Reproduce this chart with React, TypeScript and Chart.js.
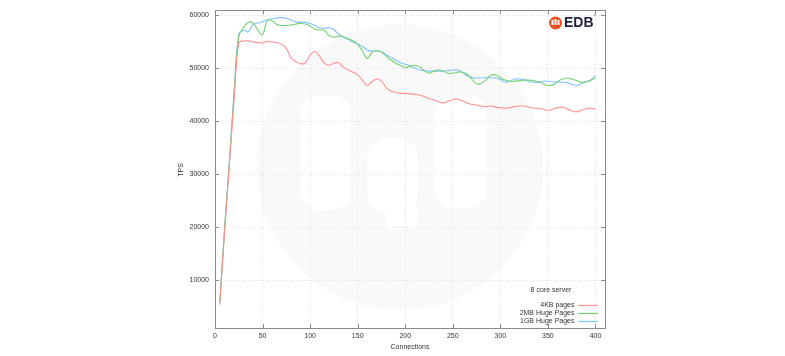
import React, { useEffect, useRef } from "react";
import { Chart, registerables } from "chart.js";

Chart.register(...registerables);

const connections: number[] = [];
for (let c = 5; c <= 400; c += 5) connections.push(c);

const pages4KB = [
  5700, 19000, 31500, 44000, 54800, 55200, 55200, 55000, 54900, 54800,
  55100, 55000, 54900, 54600, 53800, 52000, 51300, 50900, 51000, 52500,
  53200, 52300, 51000, 50600, 51000, 51100, 50200, 49700, 49300, 48800,
  47800, 46800, 47500, 48000, 47600, 46400, 45700, 45500, 45300, 45300,
  45200, 45100, 45000, 44700, 44300, 44100, 43700, 43500, 43800, 44100,
  44200, 43900, 43500, 43200, 43100, 42900, 42800, 42900, 42700, 42600,
  42500, 42600, 42800, 42900, 42900, 42700, 42500, 42500, 42300, 42100,
  42300, 42600, 42700, 42400, 42000, 41800, 42100, 42400, 42500, 42300,
];

const huge2MB = [
  5700, 19500, 32000, 45000, 56000, 57800, 58700, 58600, 57200, 56400,
  59100, 59000, 58300, 58100, 58100, 58200, 58400, 58500, 58400, 58000,
  57400, 57300, 57200, 56200, 55900, 56100, 56000, 55600, 55200, 54600,
  53300, 51900, 53000, 53400, 53100, 52300, 51600, 51000, 50600, 50200,
  50400, 50600, 50300, 49600, 49100, 49500, 49700, 49500, 49100, 49100,
  49300, 49300, 48900, 48000, 47100, 47200, 47900, 48700, 48800, 48200,
  47800, 47600, 47600, 47700, 47800, 47800, 47700, 47500, 47100, 46800,
  46900, 47500, 48000, 48200, 48000, 47700, 47400, 47500, 47800, 48200,
];

const huge1GB = [
  5400, 19500, 32000, 45500, 56400, 57200, 56900, 58300, 58600, 58800,
  59200, 59400, 59500, 59600, 59500, 59100, 58800, 58700, 58700, 58500,
  58100, 57700, 57600, 57700, 57300, 56500, 55900, 55500, 55000, 54600,
  54200, 53500, 53300, 53300, 53200, 52600, 52100, 51600, 51100, 50800,
  50500, 50100, 49700, 49600, 49500, 49500, 49500, 49500, 49600, 49700,
  49700, 49300, 48600, 48300, 48200, 48200, 48300, 48200, 48200, 47900,
  47400, 47600, 48000, 48000, 47900, 47500, 47400, 47400, 47600, 47600,
  47500, 47400, 47400, 47300, 47000, 46800, 47100, 47500, 47800, 48700,
];

const xTicks = [0, 50, 100, 150, 200, 250, 300, 350, 400];
const yTicks = [10000, 20000, 30000, 40000, 50000, 60000];
const seriesNames = ["4KB pages", "2MB Huge Pages", "1GB Huge Pages"];
const seriesColors = ["rgb(255,145,145)", "rgb(115,210,115)", "rgb(130,195,255)"];
const FONT = '"Liberation Sans", Arial, sans-serif';

const decorPlugin = {
  id: "decor",
  beforeDraw(chart: any) {
    const ctx = chart.ctx;
    ctx.save();
    ctx.fillStyle = "#f9f9f9";
    ctx.beginPath();
    ctx.arc(400, 167, 143, 0, Math.PI * 2);
    ctx.fill();
    ctx.fillStyle = "#ffffff";
    const rr = (x: number, y: number, w: number, h: number, r: number) => {
      ctx.beginPath();
      ctx.roundRect(x, y, w, h, r);
      ctx.fill();
    };
    rr(300, 95, 51, 115, 18);
    rr(367, 138, 51, 75, 20);
    rr(385, 200, 33, 30, 8);
    rr(435, 95, 52, 113, 18);
    ctx.restore();
  },
  afterDraw(chart: any) {
    const ctx = chart.ctx;
    const a = chart.chartArea;
    const xs = chart.scales.x;
    const ys = chart.scales.y;
    ctx.save();
    ctx.strokeStyle = "#8a8a8a";
    ctx.lineWidth = 1;
    ctx.strokeRect(Math.round(a.left) + 0.5, Math.round(a.top) + 0.5, Math.round(a.right - a.left), Math.round(a.bottom - a.top));
    ctx.beginPath();
    for (const t of xTicks) {
      const px = Math.round(xs.getPixelForValue(t)) + 0.5;
      ctx.moveTo(px, a.bottom);
      ctx.lineTo(px, a.bottom - 4);
      ctx.moveTo(px, a.top);
      ctx.lineTo(px, a.top + 4);
    }
    for (const t of yTicks) {
      const py = Math.round(ys.getPixelForValue(t)) + 0.5;
      ctx.moveTo(a.left, py);
      ctx.lineTo(a.left + 4, py);
      ctx.moveTo(a.right, py);
      ctx.lineTo(a.right - 4, py);
    }
    ctx.stroke();
    ctx.fillStyle = "#333";
    ctx.font = `7px ${FONT}`;
    ctx.textAlign = "center";
    ctx.textBaseline = "middle";
    ctx.fillText("Connections", (a.left + a.right) / 2, 347);
    ctx.save();
    ctx.translate(181, 170);
    ctx.rotate(-Math.PI / 2);
    ctx.fillText("TPS", 0, 0);
    ctx.restore();
    ctx.fillText("8 core server", 551, 290.5);
    ctx.textAlign = "right";
    const ly = [305, 313, 321];
    seriesNames.forEach((n, i) => {
      ctx.fillStyle = "#333";
      ctx.fillText(n, 574.5, ly[i]);
      ctx.strokeStyle = seriesColors[i];
      ctx.lineWidth = 1.2;
      ctx.beginPath();
      ctx.moveTo(578, ly[i] + 0.5);
      ctx.lineTo(598, ly[i] + 0.5);
      ctx.stroke();
    });
    ctx.fillStyle = "#f24e1e";
    ctx.beginPath();
    ctx.arc(555.5, 23, 6.5, 0, Math.PI * 2);
    ctx.fill();
    ctx.fillStyle = "#fff";
    ctx.fillRect(551.5, 20, 2, 5);
    ctx.fillRect(554.5, 19, 2, 6);
    ctx.fillRect(557.5, 20, 2, 5);
    ctx.fillStyle = "#1f1f3d";
    ctx.font = `bold 14px ${FONT}`;
    ctx.textAlign = "left";
    ctx.fillText("EDB", 564, 23.5);
    ctx.font = `5px ${FONT}`;
    ctx.fillText("\u00B0", 594, 17);
    ctx.restore();
  },
};

export default function App() {
  const ref = useRef<HTMLCanvasElement>(null);
  useEffect(() => {
    if (!ref.current) return;
    const mk = (d: number[], i: number) => ({
      label: seriesNames[i],
      data: d.map((v, k) => ({ x: connections[k], y: v })),
      borderColor: seriesColors[i],
      backgroundColor: seriesColors[i],
      borderWidth: 1.1,
      pointRadius: 0,
      tension: 0.4,
      fill: false,
    });
    const chart = new Chart(ref.current, {
      type: "line",
      data: { datasets: [mk(pages4KB, 0), mk(huge2MB, 1), mk(huge1GB, 2)] },
      options: {
        animation: false,
        responsive: false,
        maintainAspectRatio: false,
        layout: { padding: { left: 160, right: 180, top: 7, bottom: 0 } },
        plugins: { legend: { display: false }, tooltip: { enabled: false } },
        scales: {
          x: {
            type: "linear",
            min: 0,
            max: 410,
            afterBuildTicks: (s: any) => { s.ticks = xTicks.map((v) => ({ value: v })); },
            afterFit: (s: any) => { s.height = 28; },
            grid: { color: "#dedede", drawTicks: false } as any,
            border: { display: false, dash: [1, 2] },
            ticks: { color: "#333", font: { family: FONT, size: 7 }, padding: 4, maxRotation: 0, autoSkip: false },
          },
          y: {
            type: "linear",
            min: 1000,
            max: 61000,
            afterBuildTicks: (s: any) => { s.ticks = yTicks.map((v) => ({ value: v })); },
            afterFit: (s: any) => { s.width = 55; },
            grid: { color: "#dedede", drawTicks: false } as any,
            border: { display: false, dash: [1, 2] },
            ticks: { color: "#333", font: { family: FONT, size: 7 }, padding: 6, autoSkip: false, callback: (v: any) => String(v) },
          },
        },
      },
      plugins: [decorPlugin],
    });
    return () => chart.destroy();
  }, []);
  return (
    <div style={{ position: "fixed", left: 0, top: 0, width: 785, height: 356, background: "#fff" }}>
      <canvas ref={ref} width={785} height={356} style={{ width: 785, height: 356, display: "block" }} />
    </div>
  );
}
